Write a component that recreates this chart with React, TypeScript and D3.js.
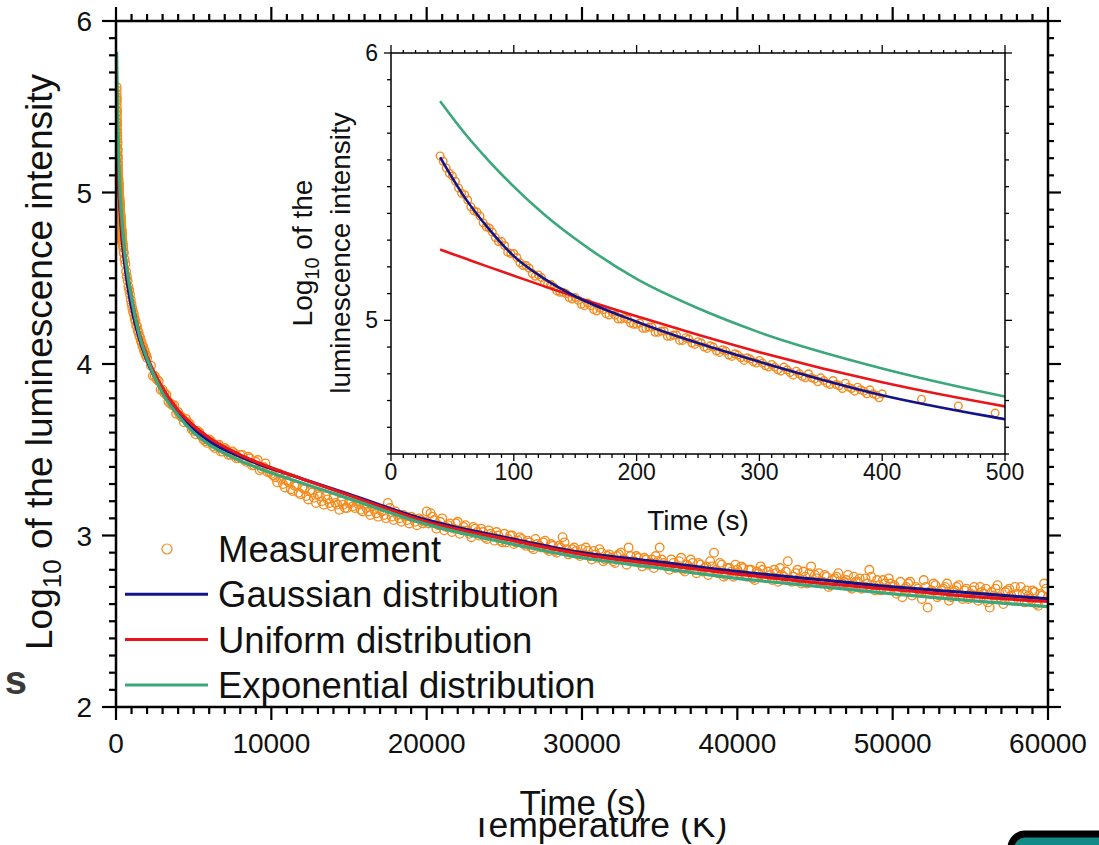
import React from 'react';
import * as d3 from 'd3';

// ---------- tick labels ----------
const mainXTicks = [0, 10000, 20000, 30000, 40000, 50000, 60000];
const mainYTicks = [2, 3, 4, 5, 6];
const insetXTicks = [0, 100, 200, 300, 400, 500];
const insetYTicks = [5, 6];

// ---------- fitted curves (time in s, log10 intensity) ----------
const fitT = [40, 60, 80, 100, 125, 150, 200, 250, 300, 400, 500, 700, 1000, 1500, 2000, 3000, 4000, 5000, 6000, 8000, 10000, 12000, 15000, 20000, 25000, 30000, 35000, 40000, 45000, 50000, 55000, 60000];
const gaussian = [5.61, 5.46, 5.34, 5.24, 5.155, 5.09, 4.995, 4.915, 4.845, 4.72, 4.63, 4.49, 4.33, 4.15, 4.02, 3.84, 3.71, 3.62, 3.55, 3.46, 3.39, 3.33, 3.24, 3.09, 2.99, 2.9, 2.845, 2.79, 2.745, 2.7, 2.665, 2.63];
const uniform = [5.265, 5.232, 5.199, 5.167, 5.127, 5.088, 5.015, 4.946, 4.881, 4.768, 4.678, 4.55, 4.39, 4.18, 4.045, 3.86, 3.73, 3.64, 3.57, 3.47, 3.395, 3.33, 3.235, 3.08, 2.98, 2.89, 2.83, 2.775, 2.725, 2.685, 2.645, 2.615];
const exponential = [5.82, 5.7, 5.595, 5.5, 5.395, 5.305, 5.155, 5.045, 4.955, 4.82, 4.715, 4.56, 4.385, 4.17, 4.03, 3.83, 3.7, 3.6, 3.53, 3.435, 3.365, 3.305, 3.215, 3.065, 2.96, 2.87, 2.81, 2.75, 2.705, 2.66, 2.62, 2.585];

// ---------- measurement ----------
const insetMeasStart = 40;
const insetMeasStep = 5;
const insetMeas = [
  5.615, 5.57, 5.54, 5.495, 5.47, 5.425, 5.405, 5.365, 5.345, 5.31,
  5.295, 5.255, 5.25, 5.215, 5.205, 5.175, 5.17, 5.14, 5.135, 5.11,
  5.105, 5.085, 5.085, 5.06, 5.065, 5.04, 5.045, 5.025, 5.03, 5.005,
  5.01, 4.99, 4.985, 4.97, 4.975, 4.955, 4.96, 4.94, 4.945, 4.925,
  4.935, 4.915, 4.92, 4.9, 4.905, 4.885, 4.89, 4.87, 4.875, 4.86,
  4.86, 4.845, 4.85, 4.83, 4.835, 4.815, 4.825, 4.805, 4.81, 4.79,
  4.8, 4.78, 4.785, 4.765, 4.775, 4.755, 4.765, 4.745, 4.75, 4.735,
  4.74, 4.72, 4.725,
];
const insetMeasBStart = 42.5;
const insetMeasB = [
  5.595, 5.55, 5.52, 5.475, 5.45, 5.41, 5.39, 5.35, 5.33, 5.295,
  5.28, 5.25, 5.235, 5.205, 5.195, 5.165, 5.16, 5.135, 5.125, 5.105,
  5.1, 5.08, 5.075, 5.055, 5.055, 5.035, 5.04, 5.02, 5.02, 5.005,
  5.005, 4.985, 4.99, 4.97, 4.975, 4.955, 4.96, 4.94, 4.945, 4.925,
  4.93, 4.91, 4.915, 4.895, 4.9, 4.88, 4.885, 4.865, 4.87, 4.85,
  4.855, 4.84, 4.84, 4.825, 4.825, 4.81, 4.815, 4.795, 4.8, 4.785,
  4.785, 4.77, 4.775, 4.76, 4.76, 4.745, 4.75, 4.735, 4.74, 4.725,
  4.725, 4.71,
];
const extraMeasT = [432, 462, 492];
const extraMeas = [4.705, 4.68, 4.653];

const earlyMeasStart = 450;
const earlyMeasStep = 50;
const earlyMeas = [4.69, 4.645, 4.61, 4.585, 4.54, 4.51, 4.485, 4.45, 4.43, 4.405, 4.375, 4.35, 4.325, 4.305, 4.29, 4.265, 4.25, 4.225, 4.22, 4.195, 4.185, 4.165, 4.155, 4.135, 4.125, 4.105, 4.1, 4.08, 4.075, 4.055, 4.05, 4.035];

const lateMeasStep = 250;
const lateMeasStart = 2250;
const lateMeas = [
  3.99, 3.93, 3.9, 3.85, 3.82, 3.77, 3.76, 3.72, 3.69, 3.68, 3.65, 3.61,
  3.61, 3.58, 3.55, 3.56, 3.52, 3.53, 3.49, 3.51, 3.47, 3.49, 3.45, 3.47, 3.44, 3.46, 3.41, 3.43, 3.38, 3.4, 3.37, 3.36,
  3.34, 3.36, 3.3, 3.32, 3.27, 3.29, 3.25, 3.28, 3.23, 3.26, 3.22, 3.24, 3.2, 3.23, 3.19, 3.22, 3.18, 3.2, 3.16, 3.19,
  3.17, 3.2, 3.15, 3.18, 3.14, 3.17, 3.13, 3.15, 3.12, 3.19, 3.11, 3.14, 3.1, 3.12, 3.09, 3.11, 3.08, 3.1, 3.07, 3.14,
  3.13, 3.09, 3.06, 3.1, 3.05, 3.07, 3.04, 3.08, 3.03, 3.06, 3.01, 3.05, 3.02, 3.04, 2.99, 3.03, 3.0, 3.02, 2.97, 3.01,
  2.98, 3.0, 2.96, 2.99, 2.95, 2.97, 2.93, 2.98, 2.94, 2.96, 2.92, 2.95, 2.91, 2.94, 2.99, 2.92, 2.9, 2.93, 2.89, 2.92,
  2.93, 2.88, 2.91, 2.87, 2.9, 2.86, 2.89, 2.85, 2.88, 2.9, 2.86, 2.93, 2.85, 2.88, 2.84, 2.87, 2.83, 2.86, 2.88, 2.93,
  2.84, 2.82, 2.86, 2.81, 2.85, 2.8, 2.83, 2.86, 2.8, 2.84, 2.79, 2.82, 2.85, 2.9, 2.78, 2.83, 2.77, 2.81, 2.76, 2.8,
  2.82, 2.77, 2.8, 2.75, 2.79, 2.82, 2.76, 2.79, 2.74, 2.78, 2.81, 2.76, 2.85, 2.73, 2.78, 2.75, 2.79, 2.72, 2.82, 2.77,
  2.78, 2.73, 2.76, 2.71, 2.75, 2.78, 2.72, 2.74, 2.7, 2.76, 2.73, 2.69, 2.75, 2.8, 2.71, 2.74, 2.68, 2.72, 2.75, 2.7,
  2.66, 2.73, 2.69, 2.72, 2.65, 2.7, 2.67, 2.74, 2.58, 2.68, 2.71, 2.65, 2.69, 2.72, 2.64, 2.68, 2.71, 2.63, 2.69, 2.66,
  2.7, 2.62, 2.67, 2.69, 2.58, 2.65, 2.71, 2.63, 2.67, 2.69, 2.62, 2.66, 2.7, 2.61, 2.65, 2.68, 2.6, 2.66, 2.72, 2.64,
];
const lateMeasBStart = 2375;
const lateMeasB = [
  3.93, 3.91, 3.85, 3.83, 3.78, 3.76, 3.71, 3.7, 3.66, 3.66, 3.62,
  3.59, 3.6, 3.56, 3.54, 3.55, 3.51, 3.53, 3.49, 3.5, 3.47, 3.48, 3.45, 3.47, 3.43, 3.45, 3.41, 3.44, 3.39, 3.42, 3.37,
  3.35, 3.31, 3.33, 3.28, 3.31, 3.26, 3.29, 3.24, 3.27, 3.21, 3.25, 3.19, 3.23, 3.18, 3.21, 3.17, 3.19, 3.15, 3.18, 3.16,
  3.19, 3.16, 3.18, 3.14, 3.16, 3.12, 3.15, 3.11, 3.14, 3.1, 3.16, 3.09, 3.12, 3.08, 3.11, 3.07, 3.1, 3.06, 3.09, 3.08,
  3.07, 3.11, 3.04, 3.08, 3.03, 3.06, 3.02, 3.07, 3.01, 3.05, 3.03, 2.99, 3.04, 3.0, 3.02, 2.98, 3.01, 2.97, 3.0, 2.96,
  2.96, 3.0, 2.95, 2.97, 2.98, 2.94, 2.96, 2.92, 2.95, 2.93, 2.97, 2.91, 2.94, 2.9, 2.93, 2.96, 2.89, 2.92, 2.91, 2.88,
  2.89, 2.91, 2.86, 2.89, 2.92, 2.85, 2.88, 2.87, 2.84, 2.89, 2.86, 2.83, 2.88, 2.85, 2.87, 2.82, 2.86, 2.84, 2.81, 2.85,
  2.86, 2.83, 2.8, 2.84, 2.82, 2.87, 2.79, 2.82, 2.84, 2.78, 2.83, 2.81, 2.77, 2.82, 2.8, 2.84, 2.76, 2.81, 2.79, 2.83,
  2.78, 2.81, 2.76, 2.8, 2.74, 2.78, 2.8, 2.75, 2.77, 2.8, 2.73, 2.77, 2.79, 2.74, 2.76, 2.8, 2.72, 2.76, 2.78, 2.73,
  2.75, 2.72, 2.77, 2.7, 2.74, 2.76, 2.71, 2.73, 2.77, 2.69, 2.73, 2.75, 2.7, 2.72, 2.76, 2.68, 2.71, 2.74, 2.69, 2.72,
  2.71, 2.68, 2.64, 2.7, 2.73, 2.67, 2.69, 2.63, 2.7, 2.66, 2.72, 2.64, 2.68, 2.7, 2.62, 2.67, 2.7, 2.65, 2.68, 2.63,
  2.68, 2.64, 2.7, 2.66, 2.61, 2.67, 2.69, 2.64, 2.6, 2.68, 2.65, 2.7, 2.62, 2.66, 2.68, 2.63, 2.67, 2.59, 2.65, 2.69,
];

const legendItems = ['Measurement', 'Gaussian distribution', 'Uniform distribution', 'Exponential distribution'];

const C_ORANGE = '#f58c1f';
const C_BLUE = '#13138c';
const C_RED = '#e8161b';
const C_GREEN = '#3aa87a';
const FONT = '"Liberation Sans", Arial, Helvetica, sans-serif';

type Pt = { t: number; v: number };

const insetPts: Pt[] = [
  ...insetMeas.map((v, i) => ({ t: insetMeasStart + i * insetMeasStep, v })),
  ...insetMeasB.map((v, i) => ({ t: insetMeasBStart + i * insetMeasStep, v })),
];
const extraPts: Pt[] = extraMeas.map((v, i) => ({ t: extraMeasT[i], v }));
const earlyPts: Pt[] = earlyMeas.map((v, i) => ({ t: earlyMeasStart + i * earlyMeasStep, v }));
const latePts: Pt[] = [
  ...lateMeas.map((v, i) => ({ t: lateMeasStart + i * lateMeasStep, v })),
  ...lateMeasB.map((v, i) => ({ t: lateMeasBStart + i * lateMeasStep, v })),
];
const mainPts: Pt[] = [...insetPts, ...extraPts, ...earlyPts, ...latePts];

const curves = [
  { key: 'gauss', vals: gaussian, color: C_BLUE },
  { key: 'unif', vals: uniform, color: C_RED },
  { key: 'exp', vals: exponential, color: C_GREEN },
];

export default function App() {
  const W = 1099, H = 845;
  // main plot
  const mx = d3.scaleLinear().domain([0, 60000]).range([116, 1048]);
  const my = d3.scaleLinear().domain([2, 6]).range([707, 21]);
  // inset
  const ix = d3.scaleLinear().domain([0, 500]).range([391, 1005]);
  const iy = d3.scaleLinear().domain([4.5, 6]).range([454, 53]);

  const mainLine = (vals: number[]) =>
    d3.line<number>().x((_, i) => mx(fitT[i])).y((d) => my(d)).curve(d3.curveMonotoneX)(vals) || '';
  const insetLine = (vals: number[]) =>
    d3.line<number>().x((_, i) => ix(fitT[i])).y((d) => iy(d)).curve(d3.curveMonotoneX)(vals) || '';

  const [mx0, mx1] = mx.range();
  const [my0, my1] = my.range();
  const [ix0, ix1] = ix.range();
  const [iy0, iy1] = iy.range();

  const mainXMinor = d3.range(0, 60001, 1000);
  const mainYMinor = d3.range(20, 61, 1).map((d) => d / 10);
  const insetXMinor = d3.range(0, 501, 10);
  const insetYMinor = d3.range(45, 61, 1).map((d) => d / 10);

  const isMajorX = (t: number) => t % 10000 === 0;
  const isMajorY = (v: number) => Math.abs(v - Math.round(v)) < 1e-6;
  const isMajorIX = (t: number) => t % 100 === 0;

  const legendY = (i: number) => 549 + i * 45.3;

  return (
    <svg width={W} height={H} style={{ position: 'absolute', left: 0, top: 0, background: '#fff' }} fontFamily={FONT}>
      <defs>
        <clipPath id="mainClip">
          <rect x={mx0} y={my1} width={mx1 - mx0} height={my0 - my1} />
        </clipPath>
        <clipPath id="insetClip">
          <rect x={ix0} y={iy1} width={ix1 - ix0} height={iy0 - iy1} />
        </clipPath>
        <clipPath id="tempClip">
          <rect x={0} y={818} width={W} height={40} />
        </clipPath>
      </defs>
      <rect x={0} y={0} width={W} height={H} fill="#fff" />

      {/* main measurement */}
      <g clipPath="url(#mainClip)">
        {mainPts.map((p, i) => (
          <circle key={i} cx={mx(p.t)} cy={my(p.v)} r={4.3} fill="none" stroke={C_ORANGE} strokeWidth={1.35} />
        ))}
        {curves.map((c) => (
          <path key={c.key} d={mainLine(c.vals)} fill="none" stroke={c.color} strokeWidth={3.2} />
        ))}
      </g>

      {/* main frame */}
      <rect x={mx0} y={my1} width={mx1 - mx0} height={my0 - my1} fill="none" stroke="#000" strokeWidth={2.5} />
      <g stroke="#000" strokeWidth={2.2}>
        {mainXMinor.map((t) => (
          <g key={'mx' + t}>
            <line x1={mx(t)} x2={mx(t)} y1={my0} y2={my0 + (isMajorX(t) ? 13 : 7)} />
            <line x1={mx(t)} x2={mx(t)} y1={my1} y2={my1 - (isMajorX(t) ? 14 : 7)} />
          </g>
        ))}
        {mainYMinor.map((v) => (
          <g key={'my' + v}>
            <line x1={mx0} x2={mx0 - (isMajorY(v) ? 14 : 7)} y1={my(v)} y2={my(v)} />
            <line x1={mx1} x2={mx1 + (isMajorY(v) ? 13 : 6)} y1={my(v)} y2={my(v)} />
          </g>
        ))}
      </g>
      <g fontSize={28} fill="#111">
        {mainXTicks.map((t) => (
          <text key={'mxl' + t} x={mx(t)} y={753} textAnchor="middle">{t}</text>
        ))}
        {mainYTicks.map((v) => (
          <text key={'myl' + v} x={92} y={my(v) + 10} textAnchor="end">{v}</text>
        ))}
      </g>
      <text transform="translate(52,362) rotate(-90)" textAnchor="middle" fontSize={37} fill="#111">
        Log<tspan fontSize={26} dy={9}>10</tspan><tspan dy={-9}> of the luminescence intensity</tspan>
      </text>

      {/* legend */}
      <g>
        <circle cx={167} cy={legendY(0)} r={5} fill="none" stroke={C_ORANGE} strokeWidth={1.2} />
        {curves.map((c, i) => (
          <line key={'lg' + c.key} x1={125} x2={208} y1={legendY(i + 1)} y2={legendY(i + 1)} stroke={c.color} strokeWidth={3} />
        ))}
        {legendItems.map((s, i) => (
          <text key={'lt' + i} x={218} y={legendY(i) + 13} fontSize={36.5} fill="#111">{s}</text>
        ))}
      </g>

      {/* inset */}
      <rect x={ix0} y={iy1} width={ix1 - ix0} height={iy0 - iy1} fill="#fff" />
      <g clipPath="url(#insetClip)">
        {[...insetPts, ...extraPts].map((p, i) => (
          <circle key={'ip' + i} cx={ix(p.t)} cy={iy(p.v)} r={3.8} fill="none" stroke={C_ORANGE} strokeWidth={1.4} />
        ))}
        <path d={insetLine(uniform)} fill="none" stroke={C_RED} strokeWidth={2.6} />
        <path d={insetLine(exponential)} fill="none" stroke={C_GREEN} strokeWidth={2.6} />
        <path d={insetLine(gaussian)} fill="none" stroke={C_BLUE} strokeWidth={2.6} />
      </g>
      <rect x={ix0} y={iy1} width={ix1 - ix0} height={iy0 - iy1} fill="none" stroke="#000" strokeWidth={1.5} />
      <g stroke="#000" strokeWidth={1.3}>
        {insetXMinor.map((t) => (
          <g key={'ix' + t}>
            <line x1={ix(t)} x2={ix(t)} y1={iy0} y2={iy0 + (isMajorIX(t) ? 7 : 4)} />
            <line x1={ix(t)} x2={ix(t)} y1={iy1} y2={iy1 - (isMajorIX(t) ? 8 : 3)} />
          </g>
        ))}
        {insetYMinor.map((v) => (
          <g key={'iy' + v}>
            <line x1={ix0} x2={ix0 - (isMajorY(v) ? 7 : 4)} y1={iy(v)} y2={iy(v)} />
            <line x1={ix1} x2={ix1 + (isMajorY(v) ? 7 : 4)} y1={iy(v)} y2={iy(v)} />
          </g>
        ))}
      </g>
      <g fontSize={23} fill="#111">
        {insetXTicks.map((t) => (
          <text key={'ixl' + t} x={ix(t)} y={480} textAnchor="middle">{t}</text>
        ))}
        {insetYTicks.map((v) => (
          <text key={'iyl' + v} x={378} y={iy(v) + 8} textAnchor="end">{v}</text>
        ))}
      </g>
      <text x={698} y={530} textAnchor="middle" fontSize={28} fill="#111">Time (s)</text>
      <text transform="translate(312,253) rotate(-90)" textAnchor="middle" fontSize={28} fill="#111">
        Log<tspan fontSize={20} dy={7}>10</tspan><tspan dy={-7}> of the</tspan>
      </text>
      <text transform="translate(350,253) rotate(-90)" textAnchor="middle" fontSize={28} fill="#111">
        luminescence intensity
      </text>

      {/* axis title & residual page elements */}
      <text x={599} y={837} textAnchor="middle" fontSize={35.5} fill="#111" clipPath="url(#tempClip)">Temperature (K)</text>
      <text x={583} y={815} textAnchor="middle" fontSize={35} fill="#111">Time (s)</text>
      <text x={27} y={694} textAnchor="end" fontSize={40} fontWeight="bold" fill="#3a3a3a">s</text>
      <rect x={1011} y={834} width={120} height={40} rx={14} fill="#138a87" stroke="#000" strokeWidth={7} />
    </svg>
  );
}
